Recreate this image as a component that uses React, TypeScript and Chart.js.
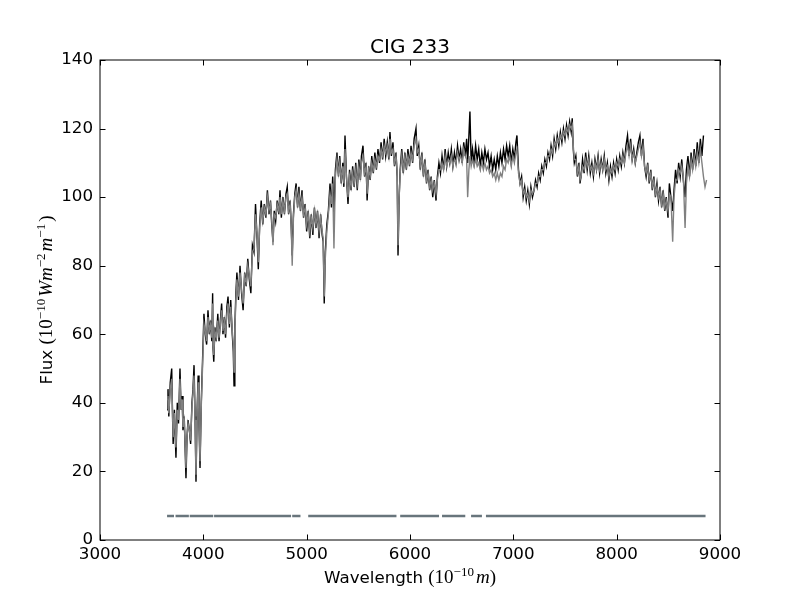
import React, { useEffect, useRef } from "react";
import { Chart, registerables } from "chart.js";
Chart.register(...registerables);

const title = "CIG 233";
const xTickValues = [3000, 4000, 5000, 6000, 7000, 8000, 9000];
const yTickValues = [0, 20, 40, 60, 80, 100, 120, 140];

const wavelength = [
  3650, 3658, 3666, 3680, 3694, 3702, 3708, 3720, 3735, 3748, 3760, 3774, 3785, 3795, 3803, 3815, 3832, 3842, 3852, 3865,
  3877, 3890, 3900, 3910, 3920, 3929, 3940, 3950, 3958, 3968, 3980, 3993, 4006, 4018, 4032, 4045, 4058, 4070, 4082, 4090,
  4094, 4101, 4112, 4125, 4140, 4152, 4165, 4177, 4190, 4203, 4215, 4228, 4239, 4252, 4265, 4280, 4290, 4297, 4305, 4315,
  4325, 4340, 4355, 4370, 4385, 4400, 4415, 4430, 4445, 4460, 4475, 4490, 4505, 4520, 4532, 4545, 4560, 4575, 4590, 4605,
  4620, 4635, 4650, 4662, 4674, 4686, 4700, 4715, 4730, 4742, 4755, 4770, 4785, 4800, 4812, 4825, 4840, 4850, 4860, 4872,
  4885, 4898, 4912, 4925, 4940, 4955, 4970, 4985, 5000, 5015, 5030, 5045, 5060, 5075, 5090, 5105, 5120, 5135, 5150, 5160,
  5170, 5180, 5195, 5210, 5226, 5240, 5252, 5264, 5278, 5293, 5308, 5320, 5335, 5350, 5360, 5371, 5385, 5400, 5415, 5430,
  5445, 5460, 5475, 5490, 5505, 5520, 5530, 5545, 5560, 5575, 5585, 5600, 5615, 5630, 5645, 5660, 5675, 5690, 5705, 5720,
  5735, 5750, 5765, 5780, 5795, 5806, 5820, 5835, 5850, 5865, 5876, 5884, 5895, 5905, 5920, 5935, 5950, 5965, 5980, 5995,
  6010, 6025, 6040, 6058, 6070, 6085, 6100, 6115, 6130, 6145, 6160, 6175, 6190, 6205, 6220, 6235, 6252, 6265, 6280, 6295,
  6310, 6325, 6340, 6355, 6370, 6385, 6400, 6415, 6430, 6445, 6460, 6475, 6490, 6505, 6520, 6535, 6548, 6558, 6570, 6580,
  6592, 6605, 6620, 6635, 6650, 6665, 6680, 6695, 6710, 6725, 6740, 6755, 6770, 6785, 6800, 6815, 6830, 6845, 6860, 6875,
  6890, 6905, 6920, 6935, 6950, 6965, 6980, 6995, 7010, 7025, 7035, 7050, 7065, 7080, 7095, 7110, 7125, 7140, 7155, 7170,
  7185, 7200, 7215, 7230, 7245, 7260, 7275, 7290, 7305, 7320, 7335, 7350, 7365, 7380, 7395, 7410, 7425, 7440, 7455, 7470,
  7485, 7500, 7515, 7530, 7545, 7560, 7570, 7580, 7590, 7605, 7620, 7635, 7645, 7655, 7670, 7685, 7700, 7715, 7730, 7745,
  7760, 7775, 7790, 7805, 7820, 7835, 7850, 7865, 7880, 7895, 7910, 7925, 7940, 7955, 7970, 7985, 8000, 8015, 8030, 8045,
  8060, 8075, 8090, 8105, 8120, 8135, 8150, 8165, 8180, 8195, 8210, 8225, 8240, 8255, 8270, 8285, 8300, 8315, 8330, 8345,
  8360, 8375, 8390, 8405, 8420, 8435, 8450, 8465, 8480, 8497, 8510, 8525, 8542, 8555, 8570, 8585, 8600, 8615, 8630, 8645,
  8662, 8675, 8690, 8705, 8720, 8735, 8750, 8765, 8780, 8795, 8810, 8825, 8840, 8855, 8870,
];

const observed = [
  38, 44, 36, 46, 50, 36, 28, 38, 24, 40, 34, 50, 38, 42, 32, 36, 18, 30, 35, 32,
  28, 40, 44, 51, 36, 17, 38, 48, 34, 21, 40, 53, 66, 60, 57, 67, 60, 64, 58, 72,
  56, 52, 62, 58, 66, 58, 64, 69, 60, 65, 59, 68, 71, 62, 70, 60, 55, 45, 62, 72,
  78, 70, 80, 72, 67, 78, 74, 82, 76, 72, 86, 84, 98, 88, 79, 92, 99, 92, 98, 94,
  102, 95, 99, 92, 87, 96, 93, 99, 95, 102, 94, 100, 95, 101, 103, 95, 99, 92, 83, 95,
  101, 104, 97, 103, 96, 102, 94, 98, 90, 96, 88, 95, 89, 97, 91, 96, 88, 95, 89, 87,
  69, 84, 92, 96, 104, 97, 106, 95, 108, 113, 106, 112, 104, 110, 103, 118, 106, 98, 108, 102,
  109, 103, 110, 102, 111, 105, 112, 115, 106, 110, 99, 109, 105, 112, 107, 113, 108, 114, 110, 116,
  111, 117, 112, 116, 111, 119, 112, 116, 109, 113, 106, 83, 100, 108, 114, 107, 113, 108, 114, 109,
  115, 110, 117, 120, 112, 115, 108, 113, 106, 111, 104, 108, 102, 106, 100, 105, 99, 106, 110, 107,
  112, 108, 114, 109, 113, 110, 114, 109, 113, 110, 115, 111, 114, 110, 116, 112, 117, 110, 118, 125,
  110, 114, 110, 115, 111, 114, 109, 113, 110, 114, 111, 113, 109, 112, 108, 111, 108, 112, 109, 113,
  110, 114, 111, 115, 112, 115, 110, 114, 111, 116, 118, 108, 104, 106, 100, 103, 99, 102, 98, 103,
  100, 102, 105, 103, 107, 105, 109, 107, 111, 109, 113, 111, 115, 112, 117, 114, 118, 115, 119, 116,
  120, 117, 121, 118, 122, 119, 123, 114, 110, 112, 106, 110, 104, 106, 111, 107, 113, 108, 112, 107,
  110, 106, 111, 108, 112, 107, 111, 108, 112, 107, 110, 105, 109, 106, 110, 107, 111, 108, 112, 109,
  113, 110, 115, 118, 112, 117, 111, 114, 110, 113, 116, 118, 112, 117, 109, 106, 110, 104, 108, 102,
  106, 100, 104, 99, 103, 97, 102, 96, 100, 94, 104, 100, 96, 102, 108, 104, 110, 106, 111, 105,
  100, 108, 112, 106, 113, 108, 114, 109, 116, 110, 117, 112, 118, null, null,
];

const model = [
  41, 42, 37, 44, 47, 37, 30, 37, 27, 38, 35, 47, 38, 41, 33, 35, 21, 30, 34, 32,
  29, 39, 43, 48, 35, 19, 37, 46, 35, 23, 39, 51, 63, 61, 58, 65, 61, 63, 59, 69,
  57, 54, 61, 59, 64, 59, 63, 67, 61, 64, 60, 66, 69, 63, 68, 61, 57, 49, 61, 70,
  76, 71, 78, 73, 69, 77, 75, 80, 77, 74, 84, 85, 95, 89, 81, 91, 97, 93, 97, 95,
  100, 96, 98, 93, 86, 95, 94, 98, 96, 100, 95, 99, 96, 100, 101, 96, 98, 92, 80, 94,
  100, 102, 98, 101, 97, 100, 95, 97, 92, 95, 90, 94, 91, 96, 92, 95, 90, 94, 90, 88,
  71, 82, 90, 95, 101, 98, 104, 85, 106, 111, 107, 110, 105, 109, 104, 114, 106, 100, 106, 103,
  107, 104, 108, 104, 109, 106, 110, 112, 107, 109, 101, 108, 106, 110, 108, 111, 109, 112, 111, 114,
  112, 115, 113, 115, 112, 117, 113, 114, 110, 112, 107, 86, 100, 107, 112, 108, 112, 109, 112, 110,
  113, 111, 115, 117, 113, 114, 109, 112, 107, 110, 105, 107, 103, 105, 102, 104, 101, 105, 108, 108,
  110, 108, 112, 109, 111, 110, 112, 109, 111, 110, 113, 111, 112, 110, 114, 112, 111, 100, 108, 112,
  109, 111, 109, 111, 109, 110, 108, 110, 108, 110, 108, 109, 107, 108, 106, 107, 105, 107, 105, 107,
  106, 109, 108, 111, 110, 112, 109, 112, 110, 113, 114, 107, 104, 105, 101, 102, 100, 101, 99, 102,
  101, 102, 104, 104, 106, 106, 108, 108, 110, 110, 112, 112, 114, 113, 116, 115, 117, 116, 118, 117,
  119, 118, 120, 119, 121, 120, 121, 115, 111, 111, 107, 109, 105, 106, 109, 108, 111, 109, 111, 108,
  109, 107, 110, 108, 111, 108, 110, 108, 111, 108, 109, 106, 108, 107, 109, 108, 110, 109, 111, 110,
  112, 110, 113, 115, 112, 115, 111, 113, 110, 112, 114, 116, 112, 115, 109, 107, 109, 105, 107, 103,
  105, 101, 103, 100, 102, 98, 101, 97, 99, 96, 101, 100, 87, 100, 105, 105, 108, 107, 109, 106,
  91, 104, 109, 106, 111, 108, 112, 109, 113, 110, 114, 110, 106, 103, 105,
];

const maskStart = [3649, 3731, 3868, 4104, 4860, 5015, 5905, 6310, 6591, 6735];
const maskEnd = [3716, 3860, 4096, 4849, 4940, 5869, 6281, 6535, 6696, 8860];
const maskLevel = 7;

const SANS = "'DejaVu Sans', sans-serif";
const SERIF = "'Liberation Serif', 'DejaVu Serif', serif";

type Seg = { text: string; font: string; dy: number; gap?: number };

function richWidth(ctx: CanvasRenderingContext2D, segs: Seg[]) {
  let w = 0;
  for (const s of segs) {
    ctx.font = s.font;
    w += ctx.measureText(s.text).width + (s.gap || 0);
  }
  return w;
}

function drawRich(ctx: CanvasRenderingContext2D, segs: Seg[], cx: number, baseline: number) {
  const w = richWidth(ctx, segs);
  let x = cx - w / 2;
  ctx.textBaseline = "alphabetic";
  ctx.textAlign = "left";
  for (const s of segs) {
    ctx.font = s.font;
    ctx.fillText(s.text, x, baseline + s.dy);
    x += ctx.measureText(s.text).width + (s.gap || 0);
  }
}

const big = 16.7;
const math = 19;
const sup = 13;
const xLabel: Seg[] = [
  { text: "Wavelength ", font: `${big}px ${SANS}`, dy: 0 },
  { text: "(10", font: `${math}px ${SERIF}`, dy: 0 },
  { text: "−10", font: `${sup}px ${SERIF}`, dy: -7.5, gap: 2 },
  { text: "m", font: `italic ${math}px ${SERIF}`, dy: 0 },
  { text: ")", font: `${math}px ${SERIF}`, dy: 0 },
];
const yLabel: Seg[] = [
  { text: "Flux ", font: `${big}px ${SANS}`, dy: 0 },
  { text: "(10", font: `${math}px ${SERIF}`, dy: 0 },
  { text: "−10", font: `${sup}px ${SERIF}`, dy: -7.5, gap: 2 },
  { text: "Wm", font: `italic ${math}px ${SERIF}`, dy: 0 },
  { text: "−2", font: `${sup}px ${SERIF}`, dy: -7.5, gap: 2 },
  { text: "m", font: `italic ${math}px ${SERIF}`, dy: 0 },
  { text: "−1", font: `${sup}px ${SERIF}`, dy: -7.5, gap: 2 },
  { text: ")", font: `${math}px ${SERIF}`, dy: 0 },
];

const framePlugin = {
  id: "mplFrame",
  afterDraw(chart: any) {
    const { ctx, chartArea: a, scales } = chart;
    ctx.save();
    ctx.strokeStyle = "#000";
    ctx.lineWidth = 1;
    ctx.strokeRect(a.left, a.top, a.right - a.left, a.bottom - a.top);
    const tl = 5.5;
    ctx.beginPath();
    for (const t of scales.x.ticks) {
      const px = Math.round(scales.x.getPixelForValue(t.value)) + 0.5;
      ctx.moveTo(px, a.bottom);
      ctx.lineTo(px, a.bottom - tl);
      ctx.moveTo(px, a.top);
      ctx.lineTo(px, a.top + tl);
    }
    for (const t of scales.y.ticks) {
      const py = Math.round(scales.y.getPixelForValue(t.value)) + 0.5;
      ctx.moveTo(a.left, py);
      ctx.lineTo(a.left + tl, py);
      ctx.moveTo(a.right, py);
      ctx.lineTo(a.right - tl, py);
    }
    ctx.stroke();
    ctx.fillStyle = "#000";
    ctx.font = `20px ${SANS}`;
    ctx.textAlign = "center";
    ctx.textBaseline = "alphabetic";
    ctx.fillText(title, (a.left + a.right) / 2, 53);
    drawRich(ctx, xLabel, (a.left + a.right) / 2, 583);
    ctx.save();
    ctx.translate(52, (a.top + a.bottom) / 2);
    ctx.rotate(-Math.PI / 2);
    drawRich(ctx, yLabel, 0, 0);
    ctx.restore();
    ctx.restore();
  },
};

export default function App() {
  const ref = useRef<HTMLCanvasElement | null>(null);
  useEffect(() => {
    document.body.style.margin = "0";
    const canvas = ref.current;
    if (!canvas) return;
    const obsData = wavelength.map((w, i) => ({ x: w, y: observed[i] }));
    const modelData = wavelength.map((w, i) => ({ x: w, y: model[i] }));
    const maskData: { x: number; y: number | null }[] = [];
    maskStart.forEach((s, i) => {
      maskData.push({ x: s, y: maskLevel });
      maskData.push({ x: maskEnd[i], y: maskLevel });
      maskData.push({ x: maskEnd[i], y: null });
    });
    const chart = new Chart(canvas, {
      type: "line",
      data: {
        datasets: [
          { label: "mask", data: maskData as any, borderColor: "#68757c", borderWidth: 2.4, pointRadius: 0, spanGaps: false, order: 0 },
          { label: "model", data: modelData as any, borderColor: "#808080", borderWidth: 1.4, pointRadius: 0, spanGaps: false, order: 1 },
          { label: "observed", data: obsData as any, borderColor: "#000000", borderWidth: 1.4, pointRadius: 0, spanGaps: false, order: 2 },
        ],
      },
      options: {
        animation: false,
        responsive: false,
        devicePixelRatio: 1,
        layout: { padding: { left: 0, right: 80, top: 60, bottom: 0 } },
        plugins: {
          legend: { display: false },
          tooltip: { enabled: false },
          title: { display: false },
        },
        scales: {
          x: {
            type: "linear",
            min: 3000,
            max: 9000,
            afterBuildTicks: (s: any) => {
              s.ticks = xTickValues.map((v) => ({ value: v }));
            },
            afterFit: (s: any) => {
              s.height = 60;
            },
            grid: { display: false, drawTicks: false },
            border: { display: false },
            ticks: {
              color: "#000",
              font: { family: SANS, size: 16.7 },
              padding: 5,
              maxRotation: 0,
              autoSkip: false,
              callback: (v: any) => String(v),
            },
          },
          y: {
            type: "linear",
            min: 0,
            max: 140,
            afterBuildTicks: (s: any) => {
              s.ticks = yTickValues.map((v) => ({ value: v }));
            },
            afterFit: (s: any) => {
              s.width = 100;
            },
            grid: { display: false, drawTicks: false },
            border: { display: false },
            ticks: {
              color: "#000",
              font: { family: SANS, size: 16.7 },
              padding: 7,
              autoSkip: false,
              callback: (v: any) => String(v),
            },
          },
        },
      },
      plugins: [framePlugin],
    });
    return () => chart.destroy();
  }, []);
  return <canvas ref={ref} width={800} height={600} style={{ display: "block" }} />;
}
